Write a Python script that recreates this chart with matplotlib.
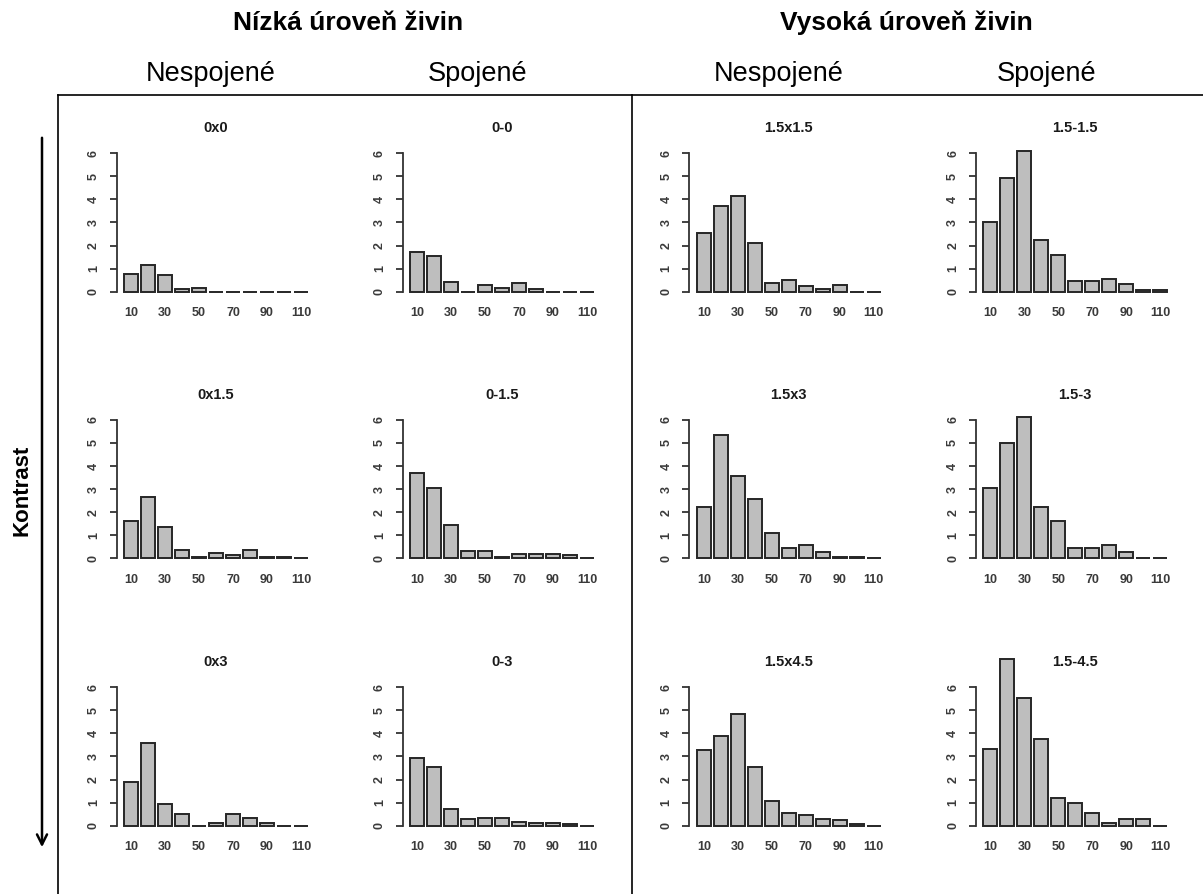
import matplotlib
matplotlib.use("Agg")
import matplotlib.pyplot as plt
from matplotlib.lines import Line2D
from matplotlib.patches import FancyArrowPatch

plt.rcParams['font.family'] = ['Liberation Sans', 'DejaVu Sans']

W, H = 1203, 894

# size classes (cm) shown on the x axis
classes = [10, 20, 30, 40, 50, 60, 70, 80, 90, 100, 110]
tick_labels = ["10", "30", "50", "70", "90", "110"]

# panel titles, row by row (rows: contrast level; columns: treatments)
titles = [
    ["0x0", "0-0", "1.5x1.5", "1.5-1.5"],
    ["0x1.5", "0-1.5", "1.5x3", "1.5-3"],
    ["0x3", "0-3", "1.5x4.5", "1.5-4.5"],
]

# bar heights per panel
v_0x0 = [0.78, 1.17, 0.74, 0.10, 0.14, 0, 0, 0, 0, 0, 0]
v_0_0 = [1.71, 1.56, 0.43, 0, 0.30, 0.14, 0.39, 0.10, 0, 0, 0]
v_15x15 = [2.56, 3.73, 4.16, 2.12, 0.38, 0.52, 0.23, 0.13, 0.29, 0, 0]
v_15_15 = [3.03, 4.94, 6.11, 2.23, 1.60, 0.48, 0.48, 0.53, 0.33, 0.09, 0.09]

v_0x15 = [1.63, 2.67, 1.35, 0.35, 0.04, 0.21, 0.15, 0.35, 0.04, 0.04, 0]
v_0_15 = [3.68, 3.06, 1.44, 0.31, 0.31, 0.04, 0.20, 0.20, 0.20, 0.16, 0]
v_15x3 = [2.21, 5.35, 3.55, 2.58, 1.09, 0.44, 0.56, 0.29, 0.04, 0.04, 0]
v_15_3 = [3.06, 5.01, 6.14, 2.23, 1.63, 0.44, 0.44, 0.56, 0.29, 0.03, 0.03]

v_0x3 = [1.91, 3.59, 0.92, 0.50, 0, 0.10, 0.50, 0.32, 0.10, 0, 0]
v_0_3 = [2.95, 2.55, 0.72, 0.28, 0.32, 0.32, 0.18, 0.13, 0.13, 0.09, 0]
v_15x45 = [3.28, 3.87, 4.85, 2.55, 1.07, 0.57, 0.48, 0.31, 0.26, 0.09, 0]
v_15_45 = [3.34, 7.24, 5.54, 3.74, 1.22, 0.97, 0.57, 0.13, 0.28, 0.28, 0]

values = [
    [v_0x0, v_0_0, v_15x15, v_15_15],
    [v_0x15, v_0_15, v_15x3, v_15_3],
    [v_0x3, v_0_3, v_15x45, v_15_45],
]

fig = plt.figure(figsize=(W / 100, H / 100), dpi=100)

# pixel geometry of the panel grid
bar_left_px = [124, 410, 696.7, 983.3]
zero_px = [291.7, 558.3, 825.7]
xunit = 14.15
yunit = 23.07
xmin, xmax = -0.33, 13.7
ymin, ymax = -0.24, 6.24

centers = [0.7 + 1.2 * i for i in range(len(classes))]

for r in range(3):
    for c in range(4):
        left = bar_left_px[c] - (0.2 - xmin) * xunit
        width = (xmax - xmin) * xunit
        bottom = zero_px[r] - ymin * yunit
        height = (ymax - ymin) * yunit
        ax = fig.add_axes([left / W, 1 - bottom / H, width / W, height / H])
        ax.bar(centers, values[r][c], width=1.0, color="#bebebe",
               edgecolor="#262626", linewidth=1.4, clip_on=False)
        ax.set_xlim(xmin, xmax)
        ax.set_ylim(ymin, ymax)
        for s in ("top", "right", "bottom"):
            ax.spines[s].set_visible(False)
        ax.spines["left"].set_bounds(0, 6)
        ax.spines["left"].set_linewidth(1.3)
        ax.spines["left"].set_color("#333333")
        ax.set_yticks(range(7))
        ax.set_yticklabels([str(i) for i in range(7)], rotation=90,
                           va="center", fontsize=9, fontweight="bold",
                           color="#3a3a3a")
        ax.tick_params(axis="y", length=5, width=1.3, color="#333333", pad=7)
        ax.set_xticks(centers[::2])
        ax.set_xticklabels(tick_labels, fontsize=9, fontweight="bold",
                           color="#3a3a3a")
        ax.tick_params(axis="x", length=0, pad=7)
        ax.set_facecolor("none")
        ax.set_title(titles[r][c], fontsize=10.5, fontweight="bold", pad=11,
                     color="#1a1a1a")

# column headers
fig.text(348 / W, 1 - 23 / H, "Nízká úroveň živin", ha="center", va="center",
         fontsize=19, fontweight="bold")
fig.text(906 / W, 1 - 23 / H, "Vysoká úroveň živin", ha="center", va="center",
         fontsize=19, fontweight="bold")
for x, label in [(211, "Nespojené"), (478, "Spojené"),
                 (779, "Nespojené"), (1047, "Spojené")]:
    fig.text(x / W, 1 - 74 / H, label, ha="center", va="center", fontsize=19.5)

# row axis label
fig.text(22 / W, 1 - 490 / H, "Kontrast", rotation=90, ha="center",
         va="center", fontsize=16, fontweight="bold")

# frame lines
def fline(x0, y0, x1, y1, lw=1.2):
    fig.add_artist(Line2D([x0 / W, x1 / W], [1 - y0 / H, 1 - y1 / H],
                          color="black", linewidth=lw,
                          transform=fig.transFigure))

fline(58, 95, W, 95)
fline(58, 95, 58, H)
fline(632, 95, 632, H)

# downward arrow
arrow = FancyArrowPatch((42 / W, 1 - 135 / H), (42 / W, 1 - 850 / H),
                        transform=fig.transFigure, arrowstyle="->",
                        mutation_scale=18, linewidth=1.8, color="black")
fig.add_artist(arrow)

fig.savefig("out.png", dpi=100)
